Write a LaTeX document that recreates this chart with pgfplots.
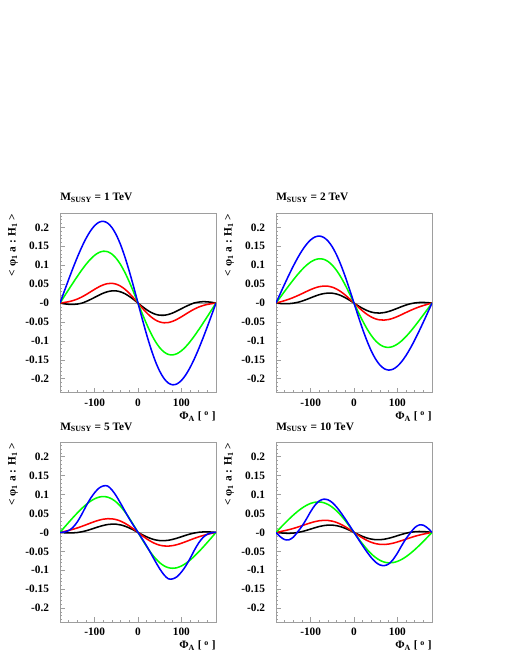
\documentclass[border=0pt]{standalone}
\usepackage{fontspec}
\setmainfont{Liberation Serif}
\usepackage{pgfplots}
\usepackage{pgfplotstable}
\pgfplotsset{compat=1.18}

\definecolor{cblue}{rgb}{0,0,1}
\definecolor{cgreen}{rgb}{0,1,0}
\definecolor{cred}{rgb}{1,0,0}
\definecolor{framegray}{gray}{0.62}

% phi  black  red  green  blue
\pgfplotstableread{
phi k r g b
-180 0 0 0 0
-170 -0.0020 0.0016 0.0179 0.0314
-160 -0.0033 0.0036 0.0357 0.0624
-150 -0.0037 0.0066 0.0533 0.0925
-140 -0.0026 0.0106 0.0705 0.1210
-130 -0.0004 0.0159 0.0870 0.1473
-120 0.0040 0.0223 0.1022 0.1706
-110 0.0092 0.0293 0.1155 0.1900
-100 0.0150 0.0364 0.1262 0.2046
-90 0.0209 0.0429 0.1336 0.2135
-80 0.0262 0.0481 0.1369 0.2159
-70 0.0301 0.0514 0.1356 0.2112
-60 0.0322 0.0521 0.1292 0.1992
-50 0.0321 0.0498 0.1177 0.1798
-40 0.0295 0.0445 0.1012 0.1535
-30 0.0246 0.0364 0.0803 0.1210
-20 0.0176 0.0257 0.0557 0.0836
-10 0.0092 0.0133 0.0285 0.0427
0 0 0 0 0
10 -0.0092 -0.0133 -0.0285 -0.0427
20 -0.0176 -0.0257 -0.0557 -0.0836
30 -0.0246 -0.0364 -0.0803 -0.1210
40 -0.0295 -0.0445 -0.1012 -0.1535
50 -0.0321 -0.0498 -0.1177 -0.1798
60 -0.0322 -0.0521 -0.1292 -0.1992
70 -0.0301 -0.0514 -0.1356 -0.2112
80 -0.0262 -0.0481 -0.1369 -0.2159
90 -0.0209 -0.0429 -0.1336 -0.2135
100 -0.0150 -0.0364 -0.1262 -0.2046
110 -0.0092 -0.0293 -0.1155 -0.1900
120 -0.0040 -0.0223 -0.1022 -0.1706
130 0.0004 -0.0159 -0.0870 -0.1473
140 0.0026 -0.0106 -0.0705 -0.1210
150 0.0037 -0.0066 -0.0533 -0.0925
160 0.0033 -0.0036 -0.0357 -0.0624
170 0.0020 -0.0016 -0.0179 -0.0314
180 0 0 0 0
}\tabA

\pgfplotstableread{
phi k r g b
-180 0 0 0 0
-170 -0.0011 0.0031 0.0156 0.0253
-160 -0.0017 0.0065 0.0312 0.0503
-150 -0.0015 0.0103 0.0465 0.0746
-140 -0.0003 0.0147 0.0614 0.0978
-130 0.0019 0.0196 0.0755 0.1193
-120 0.0052 0.0249 0.0884 0.1385
-110 0.0093 0.0304 0.0996 0.1546
-100 0.0138 0.0356 0.1085 0.1669
-90 0.0183 0.0401 0.1145 0.1746
-80 0.0222 0.0434 0.1170 0.1770
-70 0.0250 0.0449 0.1156 0.1735
-60 0.0264 0.0445 0.1099 0.1639
-50 0.0260 0.0419 0.0999 0.1482
-40 0.0238 0.0369 0.0858 0.1267
-30 0.0197 0.0298 0.0680 0.1000
-20 0.0141 0.0210 0.0471 0.0692
-10 0.0074 0.0108 0.0241 0.0353
0 0 0 0 0
10 -0.0074 -0.0108 -0.0241 -0.0353
20 -0.0141 -0.0210 -0.0471 -0.0692
30 -0.0197 -0.0298 -0.0680 -0.1000
40 -0.0238 -0.0369 -0.0858 -0.1267
50 -0.0260 -0.0419 -0.0999 -0.1482
60 -0.0264 -0.0445 -0.1099 -0.1639
70 -0.0250 -0.0449 -0.1156 -0.1735
80 -0.0222 -0.0434 -0.1170 -0.1770
90 -0.0183 -0.0401 -0.1145 -0.1746
100 -0.0138 -0.0356 -0.1085 -0.1669
110 -0.0093 -0.0304 -0.0996 -0.1546
120 -0.0052 -0.0249 -0.0884 -0.1385
130 -0.0019 -0.0196 -0.0755 -0.1193
140 0.0003 -0.0147 -0.0614 -0.0978
150 0.0015 -0.0103 -0.0465 -0.0746
160 0.0017 -0.0065 -0.0312 -0.0503
170 0.0011 -0.0031 -0.0156 -0.0253
180 0 0 0 0
}\tabB

\pgfplotstableread{
phi k r g b
-180 0 0 0 0
-170 -0.0009 0.0025 0.0133 0.0010
-160 -0.0014 0.0052 0.0264 0.0048
-150 -0.0012 0.0083 0.0392 0.0135
-140 -0.0003 0.0118 0.0514 0.0279
-130 0.0016 0.0158 0.0629 0.0472
-120 0.0043 0.0201 0.0733 0.0693
-110 0.0077 0.0245 0.0821 0.0890
-100 0.0115 0.0287 0.0888 0.1050
-90 0.0152 0.0323 0.0932 0.1170
-80 0.0184 0.0349 0.0947 0.1228
-70 0.0208 0.0362 0.0931 0.1225
-60 0.0219 0.0358 0.0882 0.1120
-50 0.0216 0.0337 0.0799 0.0960
-40 0.0198 0.0297 0.0684 0.0765
-30 0.0164 0.0240 0.0541 0.0560
-20 0.0117 0.0169 0.0374 0.0360
-10 0.0061 0.0087 0.0191 0.0175
0 0 0 0 0
10 -0.0061 -0.0087 -0.0191 -0.0175
20 -0.0117 -0.0169 -0.0374 -0.0360
30 -0.0164 -0.0240 -0.0541 -0.0560
40 -0.0198 -0.0297 -0.0684 -0.0765
50 -0.0216 -0.0337 -0.0799 -0.0960
60 -0.0219 -0.0358 -0.0882 -0.1120
70 -0.0208 -0.0362 -0.0931 -0.1225
80 -0.0184 -0.0349 -0.0947 -0.1228
90 -0.0152 -0.0323 -0.0932 -0.1170
100 -0.0115 -0.0287 -0.0888 -0.1050
110 -0.0077 -0.0245 -0.0821 -0.0890
120 -0.0043 -0.0201 -0.0733 -0.0693
130 -0.0016 -0.0158 -0.0629 -0.0472
140 0.0003 -0.0118 -0.0514 -0.0279
150 0.0012 -0.0083 -0.0392 -0.0135
160 0.0014 -0.0052 -0.0264 -0.0048
170 0.0009 -0.0025 -0.0133 -0.0010
180 0 0 0 0
}\tabC

\pgfplotstableread{
phi k r g b
-180 0 0 0 0
-170 -0.0013 0.0022 0.0120 -0.0115
-160 -0.0021 0.0046 0.0237 -0.0190
-150 -0.0024 0.0073 0.0351 -0.0195
-140 -0.0018 0.0104 0.0458 -0.0125
-130 -0.0003 0.0140 0.0556 0.0015
-120 0.0022 0.0178 0.0642 0.0165
-110 0.0053 0.0216 0.0713 0.0350
-100 0.0088 0.0253 0.0766 0.0550
-90 0.0124 0.0285 0.0797 0.0720
-80 0.0156 0.0308 0.0804 0.0833
-70 0.0180 0.0319 0.0785 0.0877
-60 0.0193 0.0316 0.0738 0.0860
-50 0.0193 0.0297 0.0665 0.0787
-40 0.0177 0.0262 0.0567 0.0667
-30 0.0148 0.0212 0.0447 0.0518
-20 0.0106 0.0149 0.0308 0.0351
-10 0.0055 0.0077 0.0157 0.0177
0 0 0 0 0
10 -0.0055 -0.0077 -0.0157 -0.0177
20 -0.0106 -0.0149 -0.0308 -0.0351
30 -0.0148 -0.0212 -0.0447 -0.0518
40 -0.0177 -0.0262 -0.0567 -0.0667
50 -0.0193 -0.0297 -0.0665 -0.0787
60 -0.0193 -0.0316 -0.0738 -0.0860
70 -0.0180 -0.0319 -0.0785 -0.0877
80 -0.0156 -0.0308 -0.0804 -0.0833
90 -0.0124 -0.0285 -0.0797 -0.0720
100 -0.0088 -0.0253 -0.0766 -0.0550
110 -0.0053 -0.0216 -0.0713 -0.0350
120 -0.0022 -0.0178 -0.0642 -0.0165
130 0.0003 -0.0140 -0.0556 -0.0015
140 0.0018 -0.0104 -0.0458 0.0125
150 0.0024 -0.0073 -0.0351 0.0195
160 0.0021 -0.0046 -0.0237 0.0190
170 0.0013 -0.0022 -0.0120 0.0115
180 0 0 0 0
}\tabD

\newcommand\tl[1]{\mbox{#1}}

\pgfplotsset{
  panel/.style={
    scale only axis, width=117pt, height=134.6pt,
    xmin=-180, xmax=180, ymin=-0.237, ymax=0.237,
    axis line style={framegray, line width=0.6pt},
    tick pos=left, tick align=inside,
    tick style={framegray, line width=0.5pt},
    major tick length=3.6pt, minor tick length=1.8pt,
    xtick={-100,0,100},
    xticklabels={\tl{-100},\tl{0},\tl{100}},
    minor xtick={-160,-140,-120,-80,-60,-40,-20,20,40,60,80,120,140,160},
    ytick={-0.2,-0.15,-0.1,-0.05,0,0.05,0.1,0.15,0.2},
    yticklabels={\tl{-0.2},\tl{-0.15},\tl{-0.1},\tl{-0.05},\tl{-0},\tl{0.05},\tl{0.1},\tl{0.15},\tl{0.2}},
    minor ytick={-0.23,-0.22,...,0.235},
    tick label style={font=\fontsize{8.5}{10}\selectfont\bfseries},
    xticklabel style={inner sep=0pt, anchor=north, yshift=-4.3pt},
    yticklabel style={inner sep=0pt, anchor=east, xshift=-8pt},
    title style={at={(rel axis cs:0,1)}, anchor=south west, inner sep=0pt, yshift=2pt,
      font=\fontsize{8.5}{10}\selectfont\bfseries},
    xlabel={Φ\textsubscript{A} [ \textsuperscript{o} ]},
    xlabel style={at={(rel axis cs:1,0)}, anchor=north east, inner sep=0pt, yshift=-14pt,
      font=\fontsize{8.5}{10}\selectfont\bfseries},
    ylabel={< φ\textsubscript{1} a : H\textsubscript{1} >},
    ylabel style={at={(rel axis cs:-0.301,1)}, anchor=east, inner sep=0pt,
      font=\fontsize{8.5}{10}\selectfont\bfseries},
    every axis plot/.append style={line width=1.15pt, smooth, no markers},
  },
  zeroline/.style={framegray, line width=0.6pt, sharp plot},
}

\newcommand\curves[1]{%
  \addplot[zeroline] coordinates {(-180,0) (180,0)};
  \addplot[black] table[x=phi, y=k] {#1};
  \addplot[cred] table[x=phi, y=r] {#1};
  \addplot[cgreen] table[x=phi, y=g] {#1};
  \addplot[cblue] table[x=phi, y=b] {#1};
}

\begin{document}
\begin{tikzpicture}[font=\fontsize{8.5}{10}\selectfont\bfseries]
\useasboundingbox (0,0) rectangle (388.5pt,-502.5pt);

\begin{axis}[panel, at={(45pt,-160pt)}, anchor=north west,
  title={M\textsubscript{SUSY} = 1 TeV}]
\curves{\tabA}
\end{axis}

\begin{axis}[panel, at={(207pt,-160pt)}, anchor=north west,
  title={M\textsubscript{SUSY} = 2 TeV}]
\curves{\tabB}
\end{axis}

\begin{axis}[panel, at={(45pt,-332pt)}, anchor=north west,
  title={M\textsubscript{SUSY} = 5 TeV}]
\curves{\tabC}
\end{axis}

\begin{axis}[panel, at={(207pt,-332pt)}, anchor=north west,
  title={M\textsubscript{SUSY} = 10 TeV}]
\curves{\tabD}
\end{axis}
\end{tikzpicture}
\end{document}
